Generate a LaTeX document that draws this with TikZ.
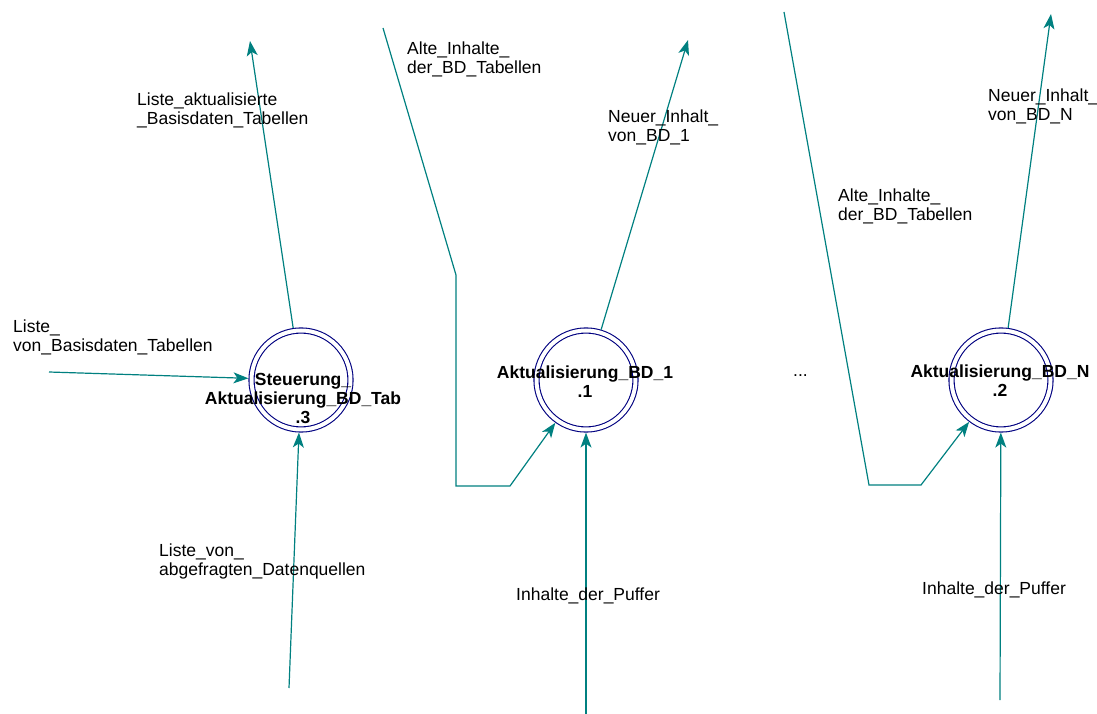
\documentclass[tikz,border=0pt]{standalone}
\usepackage{fontspec}
\setmainfont{Liberation Sans}
\usetikzlibrary{arrows.meta}

\definecolor{flowcol}{RGB}{0,128,128}
\definecolor{proccol}{RGB}{0,0,128}

\tikzset{
  flow/.style={draw=flowcol, line width=1.2pt, -{Stealth[length=15pt,width=11pt,inset=4pt]}},
  proc/.style={circle, draw=proccol, double=white, double distance=4pt, line width=1.1pt,
    minimum size=99pt, inner sep=0pt, outer sep=3.1pt},
  lbl/.style={anchor=base west, align=left, inner sep=0pt, font=\fontsize{17.5}{19}\selectfont},
  ptext/.style={anchor=base, align=center, inner sep=0pt, font=\bfseries\fontsize{17.5}{19}\selectfont},
}

\begin{document}
\begin{tikzpicture}[x=1pt, y=-1pt]
	\useasboundingbox (0,0) rectangle (1097,714);

	% processes
	\node[proc] (p3) at (301,380) {};
	\node[proc] (p1) at (586,380) {};
	\node[proc] (p2) at (1001,380) {};
	\node[ptext] (p3text) at (303,423) {Steuerung\_\\Aktualisierung\_BD\_Tab\\.3};
	\node[ptext] (p1text) at (585,397) {Aktualisierung\_BD\_1\\.1};
	\node[ptext] (p2text) at (1000,396) {Aktualisierung\_BD\_N\\.2};
	\node[lbl] (dots) at (793,376) {...};

	% free ends of the flows
	\coordinate (in3) at (49,372);
	\coordinate (out3) at (250,41);
	\coordinate (src3) at (289,688);
	\coordinate (old1) at (383,28);
	\coordinate (bend1) at (456,275);
	\coordinate (elbow1) at (510,486);
	\coordinate (out1) at (688,40);
	\coordinate (buf1) at (586,714);
	\coordinate (old2) at (784,12);
	\coordinate (bend2) at (869,485);
	\coordinate (elbow2) at (921,485);
	\coordinate (out2) at (1051,14);
	\coordinate (buf2) at (1000,700);

	% flows
	\draw[flow] (in3) -- (p3);
	\draw[flow] (p3) -- (out3);
	\draw[flow] (src3) -- (p3);
	\draw[flow] (old1) -- (bend1) |- (elbow1) -- (p1);
	\draw[flow] (p1) -- (out1);
	\draw[flow] (buf1) -- (p1);
	\draw[flow] (old2) -- (bend2) -- (elbow2) -- (p2);
	\draw[flow] (p2) -- (out2);
	\draw[flow] (buf2) -- (p2);

	% flow names
	\node[lbl] (l_in3) at (13,351) {Liste\_\\von\_Basisdaten\_Tabellen};
	\node[lbl] (l_out3) at (137,125) {Liste\_aktualisierte\\\_Basisdaten\_Tabellen};
	\node[lbl] (l_src3) at (159,575) {Liste\_von\_\\abgefragten\_Datenquellen};
	\node[lbl] (l_old1) at (407,74) {Alte\_Inhalte\_\\der\_BD\_Tabellen};
	\node[lbl] (l_out1) at (608,142) {Neuer\_Inhalt\_\\von\_BD\_1};
	\node[lbl] (l_buf1) at (516,600) {Inhalte\_der\_Puffer};
	\node[lbl] (l_old2) at (838,220) {Alte\_Inhalte\_\\der\_BD\_Tabellen};
	\node[lbl] (l_out2) at (988,121) {Neuer\_Inhalt\_\\von\_BD\_N};
	\node[lbl] (l_buf2) at (922,594) {Inhalte\_der\_Puffer};
\end{tikzpicture}
\end{document}
